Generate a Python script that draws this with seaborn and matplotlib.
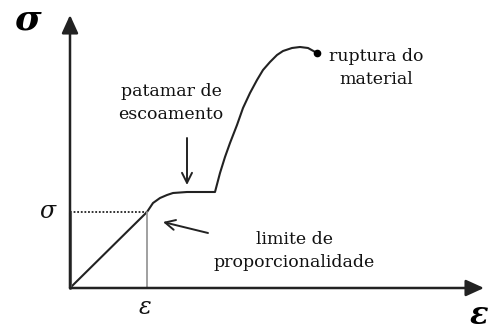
import matplotlib
matplotlib.use("Agg")
import matplotlib.pyplot as plt
import seaborn as sns
import pandas as pd

sns.set_theme(style="white")
plt.rcParams['font.family'] = ['DejaVu Serif']

# stress-strain curve (schematic units)
strain = [0, 77, 83, 90, 97, 103, 117, 145, 150, 155, 160, 167, 173, 180, 187, 193,
          200, 207, 213, 222, 230, 238, 247]
stress = [0, 76, 85, 90, 93, 95, 96, 96, 115, 131, 145, 163, 180, 195, 208, 218,
          226, 233, 237, 240, 241, 240, 235]
prop_limit = (77, 76)
rupture = (247, 235)

labels = {
    "yield": "patamar de\nescoamento",
    "rupture": "ruptura do\nmaterial",
    "limit": "limite de\nproporcionalidade",
}

df = pd.DataFrame({"strain": strain, "stress": stress})

W, H = 491, 332
fig = plt.figure(figsize=(W / 100, H / 100), dpi=100)
ax = fig.add_axes([0, 0, 1, 1])
ax.set_xlim(-70, 421)
ax.set_ylim(-44, 288)
ax.axis("off")

sns.lineplot(data=df, x="strain", y="stress", ax=ax, color="#222222", lw=1.5, sort=False)
ax.plot([rupture[0]], [rupture[1]], "o", color="black", ms=4.5)

# proportional limit guides
ax.plot([0, prop_limit[0]], [prop_limit[1], prop_limit[1]], color="#222222", lw=1.3, ls=(0, (1, 1)))
ax.plot([prop_limit[0], prop_limit[0]], [0, prop_limit[1]], color="#999999", lw=1.3)
ax.plot([0, 0], [0, prop_limit[1]], color="#666666", lw=2.2)

# axes with arrows
axis_arrow = dict(arrowstyle="-|>,head_length=1.1,head_width=0.5", color="#222222", lw=1.8,
                  mutation_scale=10, shrinkA=0, shrinkB=0)
ax.annotate("", xy=(0, 273), xytext=(0, 0), arrowprops=axis_arrow)
ax.annotate("", xy=(414, 0), xytext=(0, 0), arrowprops=axis_arrow)

# annotation arrows
note_arrow = dict(arrowstyle="->,head_length=0.6,head_width=0.3", color="#222222", lw=1.4,
                  mutation_scale=12, shrinkA=0, shrinkB=0)
ax.annotate("", xy=(117, 103), xytext=(117, 150), arrowprops=note_arrow)
ax.annotate("", xy=(93, 66), xytext=(138, 55), arrowprops=note_arrow)

fs = 12.5
ax.text(101, 185, labels["yield"], ha="center", va="center", fontsize=fs, linespacing=1.4, color="#111111")
ax.text(306, 220, labels["rupture"], ha="center", va="center", fontsize=fs, linespacing=1.4, color="#111111")
ax.text(224, 37, labels["limit"], ha="center", va="center", fontsize=fs, linespacing=1.4, color="#111111")

ax.text(-23, 77, "σ", ha="center", va="center", fontsize=17, style="italic", color="#111111")
ax.text(75, -19, "ε", ha="center", va="center", fontsize=17, style="italic", color="#111111")
ax.text(-42, 268, "σ", ha="center", va="center", fontsize=26, style="italic", weight="bold", color="black")
ax.text(409, -43, "ε", ha="center", va="bottom", fontsize=22, style="italic", weight="bold", color="black")

fig.savefig("out.png", dpi=100, facecolor="white")
